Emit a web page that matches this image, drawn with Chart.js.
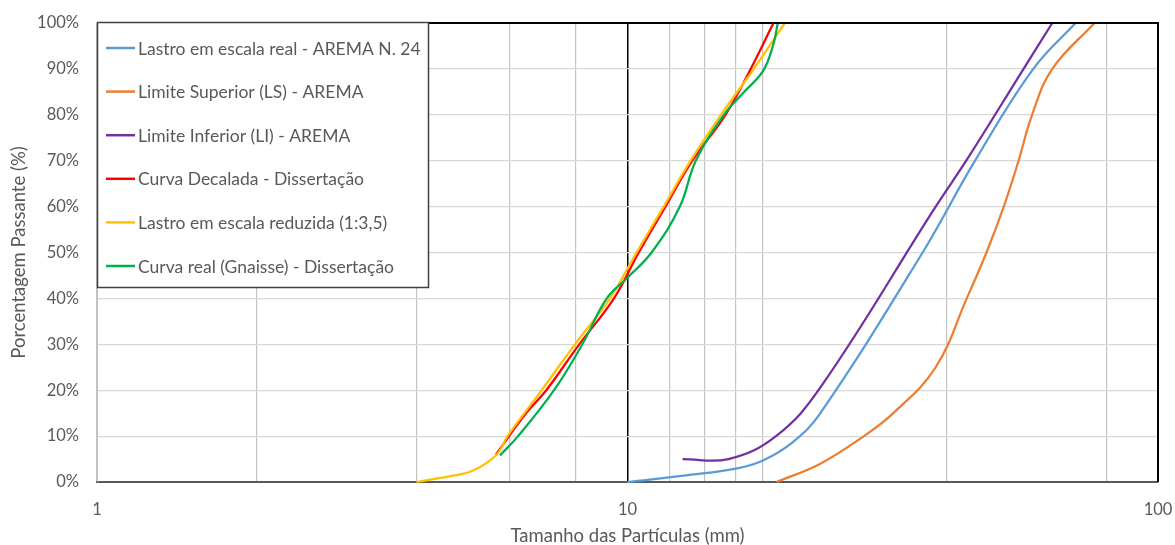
<!DOCTYPE html>
<html>
<head>
<meta charset="utf-8">
<script src="https://cdn.jsdelivr.net/npm/chart.js@4/dist/chart.umd.min.js"></script>
<style>
  html, body { margin: 0; padding: 0; background: #fff; }
  #wrap { width: 1175px; height: 545px; }
</style>
</head>
<body>
<div id="wrap"><canvas id="curvas"></canvas></div>
<script>
// Curvas granulométricas
const seriesNames = [
    'Lastro em escala real - AREMA N. 24',
    'Limite Superior (LS) - AREMA',
    'Limite Inferior (LI) - AREMA',
    'Curva Decalada - Dissertação',
    'Lastro em escala reduzida (1:3,5)',
    'Curva real (Gnaisse) - Dissertação'
];
const seriesColors = ['#5B9BD5', '#ED7D31', '#7030A0', '#FF0000', '#FFC000', '#00B050'];

const realX = [10, 13, 16, 18, 20.5, 23.1, 36.0, 45.2, 58.2, 69.9];
const realY = [0, 1.5, 2.9, 4.7, 8.7, 15, 50, 70, 90, 100];

const lsX = [19.1, 23.1, 27.5, 31.7, 38.1, 43.6, 47.5, 51.2, 54.6, 57.9, 63.2, 75.9];
const lsY = [0, 4, 9.5, 15, 25, 40, 50, 60, 70, 80, 90, 100];

const liX = [12.7, 15.5, 19.05, 23.1, 38.1, 43.5, 55.8, 63.2];
const liY = [5, 5, 10, 20.6, 60, 70, 90, 100];

const decaladaX = [5.65, 6.44, 7.03, 8.11, 9.43, 10.5, 11.79, 13.25, 15.3, 17.07, 18.84];
const decaladaY = [6, 15, 20, 30, 40, 50, 60, 70, 80, 90, 100];

const reduzidaX = [4.0, 4.63, 5.12, 5.67, 5.94, 6.89, 7.96, 9.27, 10.4, 11.7, 13.15, 15.0, 17.3, 19.8];
const reduzidaY = [0, 1.3, 2.5, 6, 10, 20, 30, 40, 50, 60, 70, 80, 90, 100];

const gnaisseX = [5.75, 6.22, 7.27, 8.22, 9.14, 10, 11.1, 12.55, 13.45, 15.2, 16.6, 18, 18.8, 19.2];
const gnaisseY = [5.8, 10, 20, 30, 40, 44.5, 50, 60, 70, 80, 85, 89.5, 95, 100];

const xGridValues = [1, 2, 4, 6, 8, 10, 12, 14, 16, 18, 40, 80, 100];
const xLabelValues = [1, 10, 100];

const allX = [realX, lsX, liX, decaladaX, reduzidaX, gnaisseX];
const allY = [realY, lsY, liY, decaladaY, reduzidaY, gnaisseY];

const FONT = 'Lato, "Open Sans", sans-serif';
const TEXT_COLOR = '#595959';

function toPoints(xs, ys) {
    return xs.map((x, i) => ({ x: x, y: ys[i] }));
}

const datasets = seriesNames.map((name, i) => ({
    label: name,
    data: toPoints(allX[i], allY[i]),
    borderColor: seriesColors[i],
    backgroundColor: seriesColors[i],
    borderWidth: 2.25,
    pointRadius: 0,
    tension: 0.4,
    fill: false,
    clip: false,
    order: seriesNames.length - i
}));

// Moldura da área do gráfico e legenda em caixa
const frameAndLegend = {
    id: 'frameAndLegend',
    afterDatasetsDraw(chart) {
        const { ctx, chartArea: a } = chart;
        ctx.save();
        ctx.strokeStyle = '#000';
        ctx.lineWidth = 2;
        ctx.beginPath();
        ctx.moveTo(a.left, a.top);
        ctx.lineTo(a.right, a.top);
        ctx.lineTo(a.right, a.bottom);
        ctx.stroke();

        // caixa da legenda
        const bx = 97, by = 22, bw = 331, bh = 265;
        ctx.fillStyle = '#fff';
        ctx.fillRect(bx, by, bw, bh);
        ctx.strokeStyle = '#404040';
        ctx.lineWidth = 1.5;
        ctx.strokeRect(bx + 0.5, by + 0.5, bw, bh);

        ctx.font = '17.5px ' + FONT;
        ctx.textBaseline = 'middle';
        ctx.textAlign = 'left';
        chart.data.datasets.forEach((ds, i) => {
            const y = 48 + i * 43.6;
            ctx.strokeStyle = ds.borderColor;
            ctx.lineWidth = 2.5;
            ctx.beginPath();
            ctx.moveTo(106, y);
            ctx.lineTo(135, y);
            ctx.stroke();
            ctx.fillStyle = TEXT_COLOR;
            ctx.fillText(ds.label, 138, y + 1);
        });
        ctx.restore();
    }
};

new Chart(document.getElementById('curvas'), {
    type: 'line',
    data: { datasets: datasets },
    options: {
        responsive: true,
        maintainAspectRatio: false,
        animation: false,
        layout: { padding: { left: 0, top: 23, right: 17, bottom: 0 } },
        plugins: {
            legend: { display: false },
            tooltip: { enabled: false }
        },
        scales: {
            x: {
                type: 'logarithmic',
                min: 1,
                max: 100,
                afterBuildTicks: scale => {
                    scale.ticks = xGridValues.map(v => ({ value: v }));
                },
                afterFit: scale => {
                    scale.height = 63;
                    scale.paddingLeft = 0;
                    scale.paddingRight = 0;
                },
                ticks: {
                    autoSkip: false,
                    maxRotation: 0,
                    padding: 18,
                    color: TEXT_COLOR,
                    font: { family: FONT, size: 16.5 },
                    callback: value => xLabelValues.includes(value) ? String(value) : ''
                },
                grid: {
                    drawTicks: false,
                    color: ctx => ctx.tick && ctx.tick.value === 10 ? '#000' : '#c4c4c4',
                    lineWidth: ctx => ctx.tick && ctx.tick.value === 10 ? 1.5 : 1.2
                },
                border: { color: '#595959', width: 2 },
                title: {
                    display: true,
                    text: 'Tamanho das Partículas (mm)',
                    color: TEXT_COLOR,
                    font: { family: FONT, size: 18.5 },
                    padding: { top: 6, bottom: -2 }
                }
            },
            y: {
                min: 0,
                max: 100,
                afterFit: scale => {
                    scale.width = 97;
                    scale.paddingTop = 0;
                    scale.paddingBottom = 0;
                },
                ticks: {
                    stepSize: 10,
                    padding: 18,
                    color: TEXT_COLOR,
                    font: { family: FONT, size: 16.5 },
                    callback: value => value + '%'
                },
                grid: {
                    drawTicks: false,
                    color: '#d9d9d9',
                    lineWidth: 1.2
                },
                border: { color: '#bfbfbf', width: 1 },
                title: {
                    display: true,
                    text: 'Porcentagem Passante (%)',
                    color: TEXT_COLOR,
                    font: { family: FONT, size: 18.5 },
                    padding: { top: 8, bottom: 0 }
                }
            }
        }
    },
    plugins: [frameAndLegend]
});
</script>
</body>
</html>
